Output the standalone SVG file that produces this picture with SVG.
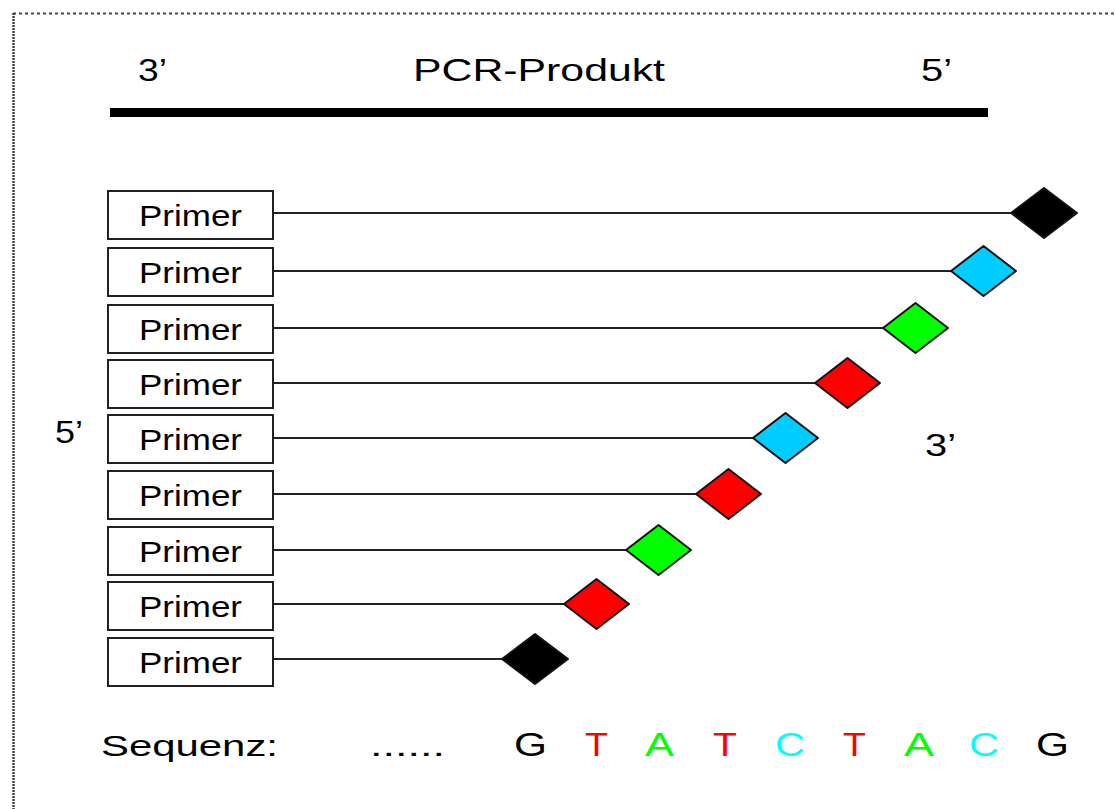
<svg xmlns="http://www.w3.org/2000/svg" width="1115" height="809" viewBox="0 0 1115 809">
<style>
text{font-family:"Liberation Sans",Arial,sans-serif;fill:#000}
.lbl{font-size:32px}
.pr{font-size:29px;text-anchor:middle}
.box{fill:#fff;stroke:#222;stroke-width:2}
.ln{stroke:#222;stroke-width:2;fill:none}
.dia{stroke:#111;stroke-width:2;stroke-linejoin:round}
.seq{font-size:33px}
</style>
<rect width="1115" height="809" fill="#fff"/>
<g id="border">
<line x1="13" y1="13.5" x2="1115" y2="13.5" stroke="#444" stroke-width="2" stroke-dasharray="3 3"/>
<line x1="13.5" y1="13" x2="13.5" y2="809" stroke="#444" stroke-width="2.5" stroke-dasharray="2 1"/>
</g>
<g id="pcr-product">
<rect x="110" y="108" width="878" height="9" fill="#000"/>
<text class="lbl" x="138" y="81" textLength="29" lengthAdjust="spacingAndGlyphs">3’</text>
<text class="lbl" x="413" y="81" textLength="252" lengthAdjust="spacingAndGlyphs">PCR-Produkt</text>
<text class="lbl" x="921" y="81" textLength="31" lengthAdjust="spacingAndGlyphs">5’</text>
</g>
<g id="connectors">
<line class="ln" x1="273" y1="213" x2="1011" y2="213"/>
<line class="ln" x1="273" y1="271" x2="951" y2="271"/>
<line class="ln" x1="273" y1="328" x2="883" y2="328"/>
<line class="ln" x1="273" y1="383" x2="815" y2="383"/>
<line class="ln" x1="273" y1="438" x2="753" y2="438"/>
<line class="ln" x1="273" y1="494" x2="696" y2="494"/>
<line class="ln" x1="273" y1="550" x2="626" y2="550"/>
<line class="ln" x1="273" y1="604" x2="564" y2="604"/>
<line class="ln" x1="273" y1="659" x2="502" y2="659"/>
</g>
<g id="primer1"><rect class="box" x="108" y="191" width="165" height="48"/><text class="pr" x="190.5" y="226" textLength="103" lengthAdjust="spacingAndGlyphs">Primer</text></g>
<g id="primer2"><rect class="box" x="108" y="248" width="165" height="48"/><text class="pr" x="190.5" y="283" textLength="103" lengthAdjust="spacingAndGlyphs">Primer</text></g>
<g id="primer3"><rect class="box" x="108" y="305" width="165" height="48"/><text class="pr" x="190.5" y="340" textLength="103" lengthAdjust="spacingAndGlyphs">Primer</text></g>
<g id="primer4"><rect class="box" x="108" y="360" width="165" height="48"/><text class="pr" x="190.5" y="395" textLength="103" lengthAdjust="spacingAndGlyphs">Primer</text></g>
<g id="primer5"><rect class="box" x="108" y="415" width="165" height="48"/><text class="pr" x="190.5" y="450" textLength="103" lengthAdjust="spacingAndGlyphs">Primer</text></g>
<g id="primer6"><rect class="box" x="108" y="471" width="165" height="48"/><text class="pr" x="190.5" y="506" textLength="103" lengthAdjust="spacingAndGlyphs">Primer</text></g>
<g id="primer7"><rect class="box" x="108" y="527" width="165" height="48"/><text class="pr" x="190.5" y="562" textLength="103" lengthAdjust="spacingAndGlyphs">Primer</text></g>
<g id="primer8"><rect class="box" x="108" y="582" width="165" height="48"/><text class="pr" x="190.5" y="617" textLength="103" lengthAdjust="spacingAndGlyphs">Primer</text></g>
<g id="primer9"><rect class="box" x="108" y="638" width="165" height="48"/><text class="pr" x="190.5" y="673" textLength="103" lengthAdjust="spacingAndGlyphs">Primer</text></g>
<g id="dye1"><polygon class="dia" fill="#000" points="1011,213 1044,188 1077,213 1044,238"/></g>
<g id="dye2"><polygon class="dia" fill="#00CCFF" points="951,271 983.5,246 1016,271 983.5,296"/></g>
<g id="dye3"><polygon class="dia" fill="#00FF00" points="883,328 915.5,303 948,328 915.5,353"/></g>
<g id="dye4"><polygon class="dia" fill="#FF0000" points="815,383 847.5,358 880,383 847.5,408"/></g>
<g id="dye5"><polygon class="dia" fill="#00CCFF" points="753,438 785.5,413 818,438 785.5,463"/></g>
<g id="dye6"><polygon class="dia" fill="#FF0000" points="696,494 728.5,469 761,494 728.5,519"/></g>
<g id="dye7"><polygon class="dia" fill="#00FF00" points="626,550 658.5,525 691,550 658.5,575"/></g>
<g id="dye8"><polygon class="dia" fill="#FF0000" points="564,604 596.5,579 629,604 596.5,629"/></g>
<g id="dye9"><polygon class="dia" fill="#000" points="502,659 535,634 568,659 535,684"/></g>
<g id="ends">
<text class="lbl" x="55" y="443" textLength="28" lengthAdjust="spacingAndGlyphs">5’</text>
<text class="lbl" x="925" y="456" textLength="31" lengthAdjust="spacingAndGlyphs">3’</text>
</g>
<g id="sequence">
<text x="101" y="756" font-size="30" textLength="177" lengthAdjust="spacingAndGlyphs">Sequenz:</text>
<text x="370" y="756" font-size="30" textLength="75" lengthAdjust="spacingAndGlyphs">......</text>
<text class="seq" x="514" y="756" textLength="33" lengthAdjust="spacingAndGlyphs">G</text>
<text class="seq" x="585" y="756" textLength="23" lengthAdjust="spacingAndGlyphs" style="fill:#FF0000">T</text>
<text class="seq" x="645" y="756" textLength="29" lengthAdjust="spacingAndGlyphs" style="fill:#00FF00">A</text>
<text class="seq" x="713" y="756" textLength="24" lengthAdjust="spacingAndGlyphs" style="fill:#FF0000">T</text>
<text class="seq" x="775" y="756" textLength="30" lengthAdjust="spacingAndGlyphs" style="fill:#00FFFF">C</text>
<text class="seq" x="843" y="756" textLength="23" lengthAdjust="spacingAndGlyphs" style="fill:#FF0000">T</text>
<text class="seq" x="904" y="756" textLength="30" lengthAdjust="spacingAndGlyphs" style="fill:#00FF00">A</text>
<text class="seq" x="969" y="756" textLength="30" lengthAdjust="spacingAndGlyphs" style="fill:#00FFFF">C</text>
<text class="seq" x="1036" y="756" textLength="33" lengthAdjust="spacingAndGlyphs">G</text>
</g>
</svg>
